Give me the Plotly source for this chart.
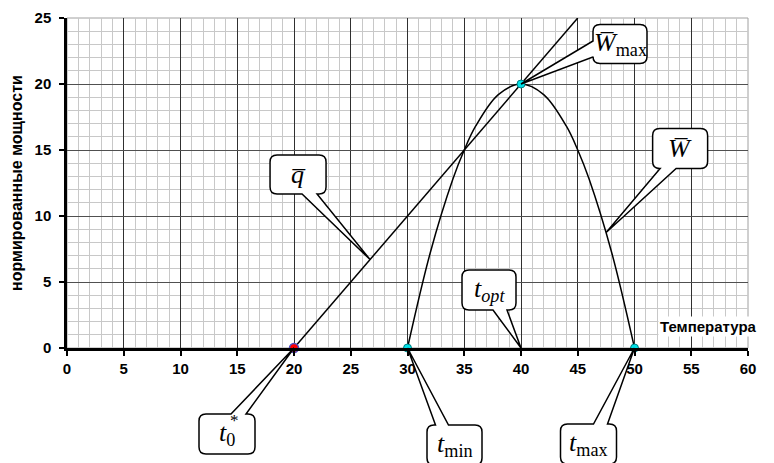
import plotly.graph_objects as go

# data
q_x = [20, 45]
q_y = [0, 25]

w_x = [30, 32, 34, 35, 36, 38, 40, 42, 44, 45, 46, 48, 50]
w_y = [0, 7.2, 12.8, 15, 16.8, 19.2, 20, 19.2, 16.8, 15, 12.8, 7.2, 0]

t0_x, t0_y = [20], [0]
pts_x = [30, 40, 50]
pts_y = [0, 20, 0]

x_range = [0, 60]
y_range = [0, 25]

# callouts: label, tip (data), box offset from tip in px (screen), box size, wedge side, wedge base
callouts = [
    ("<i>q̅</i>", 26.7, 6.7, -72, -85, 56, 39, "bottom", (4, 19)),
    ("<i>W̅</i><sub>max</sub>", 40, 20, 99, -40, 54, 39, "left", (-3, 13)),
    ("<i>W̅</i>", 47.5, 8.75, 74, -84, 55, 40, "bottom", (-20, -4)),
    ("<i>t<sub>opt</sub></i>", 40, 0, -32, -58, 54, 40, "bottom", (4, 18)),
    ("<i>t</i><sub>0</sub>", 20, 0, -67, 86, 56, 40, "top", (4, 19)),
    ("<i>t</i><sub>min</sub>", 30, 0, 47, 97, 55, 40, "top", (-19, -6)),
    ("<i>t</i><sub>max</sub>", 50, 0, -46, 96, 56, 40, "top", (5, 19)),
]


def callout_path(dx, dy, w, h, side, base, r=7):
    L, R = dx - w / 2, dx + w / 2
    T, B = dy - h / 2, dy + h / 2
    b0, b1 = base
    pts = []
    pts.append(("M", L + r, T))
    if side == "top":
        pts += [("L", dx + b0, T), ("L", 0, 0), ("L", dx + b1, T)]
    pts.append(("L", R - r, T))
    pts.append(("Q", R, T, R, T + r))
    pts.append(("L", R, B - r))
    pts.append(("Q", R, B, R - r, B))
    if side == "bottom":
        pts += [("L", dx + b1, B), ("L", 0, 0), ("L", dx + b0, B)]
    pts.append(("L", L + r, B))
    pts.append(("Q", L, B, L, B - r))
    if side == "left":
        pts += [("L", L, dy + b1), ("L", 0, 0), ("L", L, dy + b0)]
    pts.append(("L", L, T + r))
    pts.append(("Q", L, T, L + r, T))
    s = ""
    for p in pts:
        cmd, coords = p[0], p[1:]
        xy = []
        for i in range(0, len(coords), 2):
            xy.append(f"{coords[i]:.1f},{-coords[i + 1]:.1f}")
        s += cmd + " ".join(xy) + " "
    return s + "Z"


def to_paper(v, rng):
    return (v - rng[0]) / (rng[1] - rng[0])


fig = go.Figure()

fig.add_trace(go.Scatter(x=q_x, y=q_y, mode="lines",
                         line=dict(color="black", width=1.5), cliponaxis=False))
fig.add_trace(go.Scatter(x=w_x, y=w_y, mode="lines", line_shape="spline",
                         line=dict(color="black", width=1.5), cliponaxis=False))
fig.add_trace(go.Scatter(x=t0_x, y=t0_y, mode="markers", cliponaxis=False,
                         marker=dict(color="red", size=9, line=dict(color="#5050c0", width=1.5))))
fig.add_trace(go.Scatter(x=pts_x, y=pts_y, mode="markers", cliponaxis=False,
                         marker=dict(color="#00e0e8", size=8, symbol="circle",
                                     line=dict(color="#008080", width=1))))

serif = dict(family="Liberation Serif", size=26, color="black")

for label, tx, ty, dx, dy, w, h, side, base in callouts:
    fig.add_shape(type="path", xref="paper", yref="paper", xsizemode="pixel", ysizemode="pixel",
                  xanchor=to_paper(tx, x_range), yanchor=to_paper(ty, y_range),
                  path=callout_path(dx, dy, w, h, side, base),
                  fillcolor="white", line=dict(color="black", width=1.5), layer="above")
    fig.add_annotation(x=tx, y=ty, xref="x", yref="y", text=label, showarrow=False,
                       xshift=dx, yshift=-dy, font=serif)

# the star on t0
fig.add_annotation(x=20, y=0, text="*", showarrow=False, xshift=-60, yshift=-72,
                   font=dict(family="Liberation Serif", size=17, color="black"))

# plot border
fig.add_shape(type="rect", xref="paper", yref="paper", x0=0, y0=0, x1=1, y1=1,
              line=dict(color="#a0a0a0", width=1), layer="below")

fig.add_annotation(x=56.5, y=1.6, text="Температура", showarrow=False, bgcolor="white",
                   font=dict(family="Liberation Sans", size=15, color="black", weight="bold"))

tick_font = dict(family="Liberation Sans", size=15, color="black", weight="bold")

fig.update_xaxes(range=x_range, dtick=5, tick0=0, showgrid=True, gridcolor="#303030",
                 gridwidth=1, zeroline=False, showline=True, linecolor="black", linewidth=2.5,
                 ticks="outside", ticklen=5, tickwidth=2, tickcolor="black", tickfont=tick_font,
                 minor=dict(dtick=1, showgrid=True, gridcolor="#c8c8c8", gridwidth=1))
fig.update_yaxes(range=y_range, dtick=5, tick0=0, showgrid=True, gridcolor="#505050",
                 gridwidth=1, zeroline=False, showline=True, linecolor="black", linewidth=2.5,
                 ticks="outside", ticklen=5, tickwidth=2, tickcolor="black", tickfont=tick_font,
                 ticklabelstandoff=5, automargin=False,
                 title=dict(text="нормированные мощности", standoff=8,
                            font=dict(family="Liberation Sans", size=16, color="black",
                                      weight="bold")),
                 minor=dict(dtick=1, showgrid=True, gridcolor="#c8c8c8", gridwidth=1))

# page body has an 8px margin, so the figure is sized to fit inside the window
fig.update_layout(width=766, height=455, showlegend=False,
                  plot_bgcolor="white", paper_bgcolor="white",
                  margin=dict(l=59, r=26, t=10, b=115))

fig.write_html("out.html")
